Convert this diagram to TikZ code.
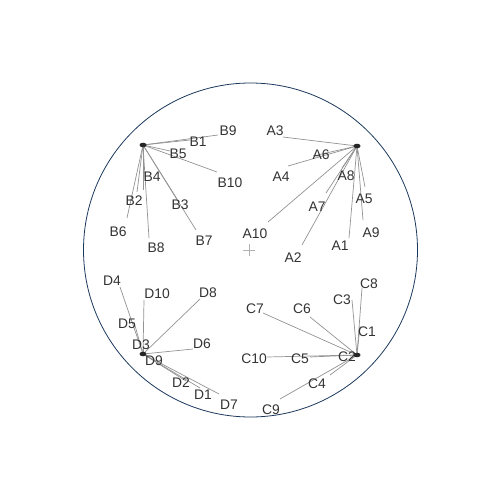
\documentclass[tikz,border=0pt]{standalone}
\usepackage{fontspec}
\setmainfont{Liberation Sans}
\usepackage{tikz}

\begin{document}
\begin{tikzpicture}[
    x=0.02cm,y=-0.02cm,
    spoke/.style={gray!85, line width=0.4pt},
    lbl/.style={inner sep=0pt, text=black!80, font=\fontsize{7.9}{9}\selectfont}
    ]
    \useasboundingbox (0,0) rectangle (500,500);
    \draw[color={rgb,255:red,25;green,55;blue,90}, line width=0.45pt] (250.5,250) circle (167);
    \draw[gray!60, line width=0.5pt] (243,250) -- (255,250) (249,244) -- (249,256);
    % hubs
    \coordinate (hA) at (357,146);
    \coordinate (hB) at (143,145);
    \coordinate (hC) at (357,355);
    \coordinate (hD) at (143,354);
    % cluster B
    \coordinate (eB9) at (218,135);
    \coordinate (eB1) at (190,140);
    \coordinate (eB5) at (170,151);
    \coordinate (eB10) at (217,172);
    \coordinate (eB4) at (143,190);
    \coordinate (eB2) at (137,192);
    \coordinate (eB6) at (127,218);
    \coordinate (eB8) at (149,238);
    \coordinate (eB3) at (177,199);
    \coordinate (eB7) at (196,230);
    \foreach \n in {B9,B1,B5,B10,B4,B2,B6,B8,B3,B7} \draw[spoke] (hB) -- (e\n);
    \node[lbl] (lB9) at (228,131) {B9};
    \node[lbl] (lB1) at (198,142) {B1};
    \node[lbl] (lB5) at (178,154) {B5};
    \node[lbl] (lB10) at (230,183) {B10};
    \node[lbl] (lB4) at (152,177) {B4};
    \node[lbl] (lB2) at (134,201) {B2};
    \node[lbl] (lB6) at (118,232) {B6};
    \node[lbl] (lB8) at (156,248) {B8};
    \node[lbl] (lB3) at (180,205) {B3};
    \node[lbl] (lB7) at (204,241) {B7};
    % cluster A
    \coordinate (eA3) at (283,137);
    \coordinate (eA6) at (313,156);
    \coordinate (eA4) at (288,166);
    \coordinate (eA8) at (342,168);
    \coordinate (eA7) at (326,193);
    \coordinate (eA5) at (365,187);
    \coordinate (eA10) at (268,222);
    \coordinate (eA9) at (363,220);
    \coordinate (eA2) at (302,245);
    \coordinate (eA1) at (349,238);
    \foreach \n in {A3,A6,A4,A8,A7,A5,A10,A9,A2,A1} \draw[spoke] (hA) -- (e\n);
    \node[lbl] (lA3) at (275,131) {A3};
    \node[lbl] (lA6) at (321,155) {A6};
    \node[lbl] (lA4) at (281,177) {A4};
    \node[lbl] (lA8) at (346,176) {A8};
    \node[lbl] (lA7) at (317,207) {A7};
    \node[lbl] (lA5) at (364,199) {A5};
    \node[lbl] (lA10) at (255,234) {A10};
    \node[lbl] (lA9) at (371,233) {A9};
    \node[lbl] (lA2) at (293,258) {A2};
    \node[lbl] (lA1) at (340,246) {A1};
    % cluster C
    \coordinate (eC8) at (362,288);
    \coordinate (eC3) at (352,300);
    \coordinate (eC7) at (263,313);
    \coordinate (eC6) at (310,317);
    \coordinate (eC1) at (360,326);
    \coordinate (eC10) at (267,357);
    \coordinate (eC5) at (310,357);
    \coordinate (eC2) at (350,356);
    \coordinate (eC4) at (330,375);
    \coordinate (eC9) at (280,399);
    \foreach \n in {C8,C3,C7,C6,C1,C10,C5,C2,C4,C9} \draw[spoke] (hC) -- (e\n);
    \node[lbl] (lC8) at (369,284) {C8};
    \node[lbl] (lC3) at (342,300) {C3};
    \node[lbl] (lC7) at (255,309) {C7};
    \node[lbl] (lC6) at (302,309) {C6};
    \node[lbl] (lC1) at (367,332) {C1};
    \node[lbl] (lC10) at (254,359) {C10};
    \node[lbl] (lC5) at (300,359) {C5};
    \node[lbl] (lC2) at (347,357) {C2};
    \node[lbl] (lC4) at (317,384) {C4};
    \node[lbl] (lC9) at (271,410) {C9};
    % cluster D
    \coordinate (eD4) at (120,287);
    \coordinate (eD10) at (144,300);
    \coordinate (eD8) at (200,299);
    \coordinate (eD5) at (134,322);
    \coordinate (eD3) at (143,347);
    \coordinate (eD6) at (193,349);
    \coordinate (eD9) at (150,358);
    \coordinate (eD2) at (186,381);
    \coordinate (eD1) at (200,388);
    \coordinate (eD7) at (219,394);
    \foreach \n in {D4,D10,D8,D5,D3,D6,D9,D2,D1,D7} \draw[spoke] (hD) -- (e\n);
    \node[lbl] (lD4) at (112,281) {D4};
    \node[lbl] (lD10) at (157,294) {D10};
    \node[lbl] (lD8) at (208,293) {D8};
    \node[lbl] (lD5) at (127,324) {D5};
    \node[lbl] (lD3) at (141,345) {D3};
    \node[lbl] (lD6) at (202,344) {D6};
    \node[lbl] (lD9) at (154,361) {D9};
    \node[lbl] (lD2) at (181,383) {D2};
    \node[lbl] (lD1) at (203,395) {D1};
    \node[lbl] (lD7) at (229,405) {D7};
    \fill[black!85] (hA) ellipse (3.5 and 2.3);
    \fill[black!85] (hB) ellipse (3.5 and 2.3);
    \fill[black!85] (hC) ellipse (3.5 and 2.3);
    \fill[black!85] (hD) ellipse (3.5 and 2.3);
  \end{tikzpicture}
\end{document}
